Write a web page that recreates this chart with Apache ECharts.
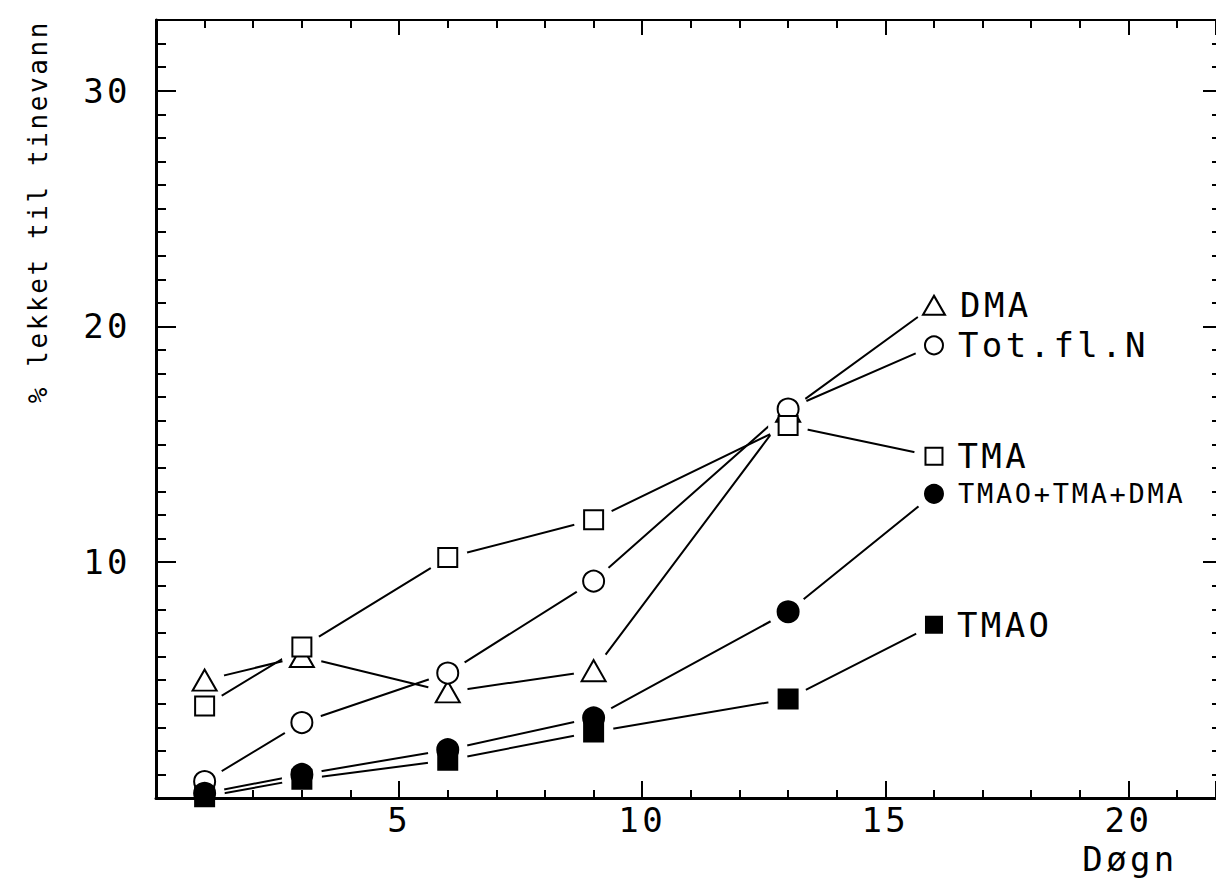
<!DOCTYPE html>
<html>
<head>
<meta charset="utf-8">
<script src="https://cdn.jsdelivr.net/npm/echarts@6/dist/echarts.min.js"></script>
<style>
  html, body { margin: 0; padding: 0; background: #fff; }
  #main { width: 1216px; height: 886px; }
  /* plotter lettering is spaced wide */
  #main text { letter-spacing: 0.1em; }
</style>
</head>
<body>
<div id="main"></div>
<script>
// days after thawing
const days = [1, 3, 6, 9, 13, 16];

// % leaked to thaw water
const dma        = [5.0, 6.0, 4.5, 5.4, 16.4, 20.9];
const totFlN     = [0.7, 3.2, 5.3, 9.2, 16.5, 19.2];
const tma        = [3.9, 6.4, 10.2, 11.8, 15.8, 14.5];
const tmaoTmaDma = [0.2, 1.0, 2.05, 3.4, 7.9, 12.9];
const tmao       = [0.05, 0.8, 1.6, 2.8, 4.2, 7.35];

const FONT = 'DejaVu Sans Mono';
const last = days.length - 1;

const groups = [
  { name: 'DMA', values: dma, symbol: 'emptyTriangle', size: [24, 21], endSize: [22, 19], font: 34 },
  { name: 'Tot.fl.N', values: totFlN, symbol: 'emptyCircle', size: 21, endSize: 18, font: 34 },
  { name: 'TMA', values: tma, symbol: 'emptyRect', size: 19, endSize: 17, font: 34 },
  { name: 'TMAO+TMA+DMA', values: tmaoTmaDma, symbol: 'circle', size: 21, endSize: 18, font: 27 },
  { name: 'TMAO', values: tmao, symbol: 'rect', size: 19, endSize: 16, font: 34 },
];

function pairs(vals) {
  return days.map((d, i) => [d, vals[i]]);
}

const chart = echarts.init(document.getElementById('main'), null, { renderer: 'svg' });

// linjer
const lineSeries = groups.map(g => ({
  type: 'line',
  data: pairs(g.values),
  symbol: 'none',
  z: 2,
  lineStyle: { color: '#000', width: 2 },
}));

// white gap round each point, like the plotter leaves
const gapSeries = groups.map(g => ({
  type: 'scatter',
  data: pairs(g.values),
  symbolSize: 40,
  itemStyle: { color: '#fff', opacity: 1 },
  z: 10,
}));

// punkt + navn ved siste punkt
const pointSeries = groups.map(g => ({
  type: 'scatter',
  name: g.name,
  data: pairs(g.values),
  symbol: g.symbol,
  symbolSize: (v, p) => (p.dataIndex === last ? g.endSize : g.size),
  itemStyle: { color: '#000', borderColor: '#000', borderWidth: 2, opacity: 1 },
  label: {
    show: true,
    position: 'right',
    distance: 14,
    formatter: p => (p.dataIndex === last ? g.name : ''),
    fontFamily: FONT,
    fontSize: g.font,
    color: '#000',
  },
  z: 20,
}));

const tickStyle = { color: '#000', width: 2 };
const gridRect = { left: 156, right: 0, top: 20, bottom: 88, outerBoundsMode: 'none' };

const option = {
  animation: false,
  backgroundColor: '#fff',
  grid: [Object.assign({}, gridRect), Object.assign({}, gridRect)],
  xAxis: [
    {
      type: 'value', gridIndex: 0, position: 'bottom', min: 0, max: 21.8, interval: 1, z: 30,
      axisLine: { onZero: false, lineStyle: { color: '#000', width: 3 } },
      axisTick: { inside: true, length: 8, lineStyle: tickStyle },
      axisLabel: {
        margin: 5, fontFamily: FONT, fontSize: 34, color: '#000',
        formatter: v => (v > 0 && v % 5 === 0 ? String(v) : ''),
      },
      splitLine: { show: false },
      name: 'Døgn',
      nameLocation: 'end',
      nameGap: -86,
      nameMoveOverlap: false,
      nameTextStyle: {
        fontFamily: FONT, fontSize: 34, color: '#000',
        align: 'center', verticalAlign: 'top', padding: [44, 0, 0, 0],
      },
    },
    {
      type: 'value', gridIndex: 0, position: 'top', min: 0, max: 21.8, interval: 1,
      axisLine: { onZero: false, lineStyle: { color: '#000', width: 2 } },
      axisTick: { inside: true, length: 8, lineStyle: tickStyle },
      axisLabel: { show: false },
      splitLine: { show: false },
    },
    {
      type: 'value', gridIndex: 1, position: 'bottom', min: 0, max: 21.8, interval: 5, z: 30,
      axisLine: { show: false, onZero: false },
      axisTick: { inside: true, length: 17, lineStyle: tickStyle },
      axisLabel: { show: false },
      splitLine: { show: false },
    },
    {
      type: 'value', gridIndex: 1, position: 'top', min: 0, max: 21.8, interval: 5,
      axisLine: { show: false, onZero: false },
      axisTick: { inside: true, length: 15, lineStyle: tickStyle },
      axisLabel: { show: false },
      splitLine: { show: false },
    },
  ],
  yAxis: [
    {
      type: 'value', gridIndex: 0, position: 'left', min: 0, max: 33, interval: 1,
      axisLine: { onZero: false, lineStyle: { color: '#000', width: 3 } },
      axisTick: { inside: true, length: 10, lineStyle: tickStyle },
      axisLabel: {
        margin: 25, fontFamily: FONT, fontSize: 34, color: '#000',
        formatter: v => (v > 0 && v % 10 === 0 ? String(v) : ''),
      },
      splitLine: { show: false },
      name: '% lekket til tinevann',
      nameLocation: 'end',
      nameRotate: 90,
      nameGap: 0,
      nameMoveOverlap: false,
      nameTextStyle: {
        fontFamily: FONT, fontSize: 26, color: '#000',
        align: 'right', verticalAlign: 'bottom', padding: [0, 0, 105, 0],
      },
    },
    {
      type: 'value', gridIndex: 0, position: 'right', min: 0, max: 33, interval: 1,
      axisLine: { show: false, onZero: false },
      axisTick: { inside: true, length: 4, lineStyle: tickStyle },
      axisLabel: { show: false },
      splitLine: { show: false },
    },
    {
      type: 'value', gridIndex: 1, position: 'left', min: 0, max: 33, interval: 10,
      axisLine: { show: false, onZero: false },
      axisTick: { inside: true, length: 20, lineStyle: tickStyle },
      axisLabel: { show: false },
      splitLine: { show: false },
    },
    {
      type: 'value', gridIndex: 1, position: 'right', min: 0, max: 33, interval: 10,
      axisLine: { show: false, onZero: false },
      axisTick: { inside: true, length: 13, lineStyle: tickStyle },
      axisLabel: { show: false },
      splitLine: { show: false },
    },
  ],
  series: [].concat(lineSeries, gapSeries, pointSeries),
};

chart.setOption(option);
</script>
</body>
</html>
